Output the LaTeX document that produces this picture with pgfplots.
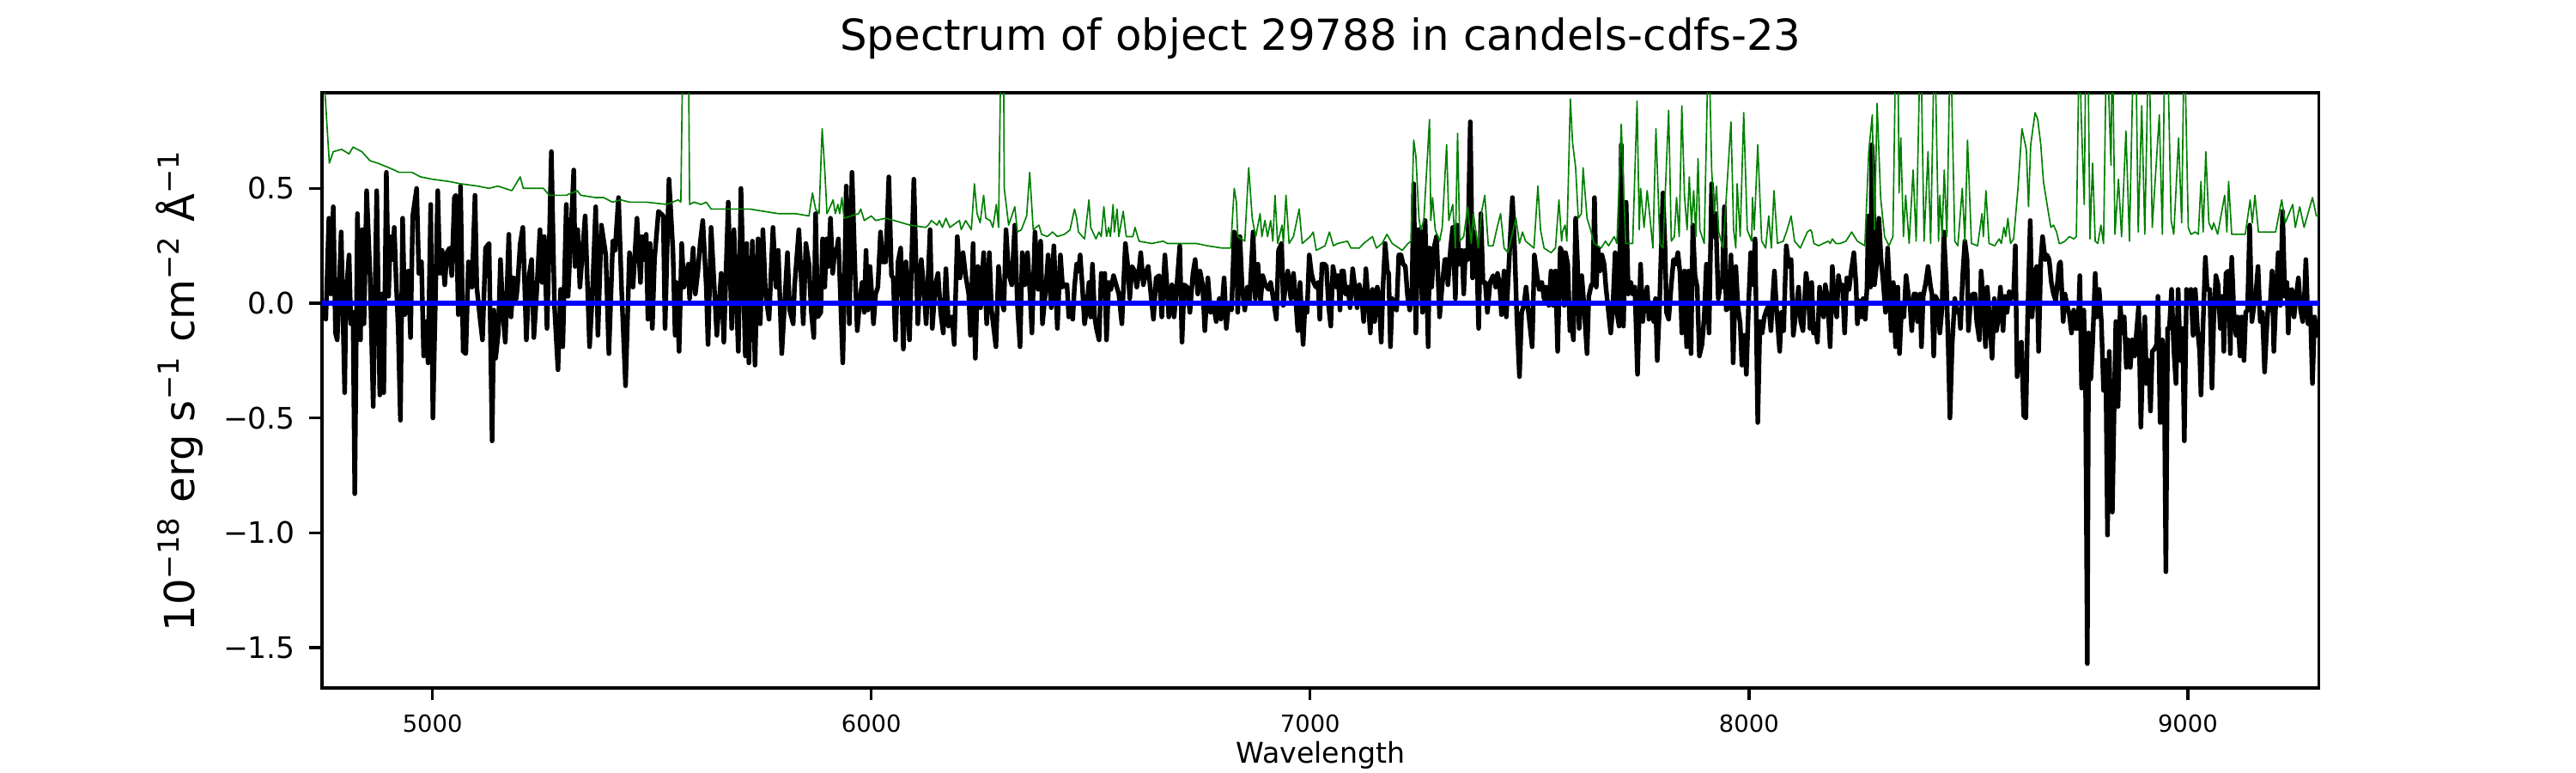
\documentclass[border=0pt]{standalone}
\usepackage{fontspec}
\setmainfont{DejaVu Sans}
\usepackage{pgfplots}
\usepackage{pgfplotstable}
\pgfplotsset{compat=1.18}
\definecolor{mplgreen}{rgb}{0,0.5,0}
\pgfplotstableread[row sep=\\]{
x y\\
4748 -0.01\\ 4757 -0.07\\ 4764 0.37\\ 4768 0.04\\ 4774 0.42\\ 4779 -0.13\\ 4783 -0.16\\ 4787 0.04\\ 4792 0.31\\ 4800 -0.39\\
4803 0.03\\ 4810 0.21\\ 4814 -0.09\\ 4819 -0.04\\ 4823 -0.83\\ 4829 0.39\\ 4836 -0.16\\ 4840 0.32\\ 4844 -0.09\\ 4850 0.49\\
4858 0.11\\ 4865 -0.45\\ 4873 0.49\\ 4880 -0.40\\ 4885 0.04\\ 4889 -0.39\\ 4895 0.57\\ 4900 0.03\\ 4904 0.29\\ 4909 0.19\\
4913 0.33\\ 4917 0.11\\ 4922 -0.11\\ 4927 -0.51\\ 4932 0.37\\ 4937 -0.05\\ 4945 0.14\\ 4950 -0.15\\ 4955 0.38\\ 4964 0.50\\
4969 0.13\\ 4975 0.18\\ 4980 -0.23\\ 4986 -0.08\\ 4990 -0.26\\ 4996 0.43\\ 5001 -0.50\\ 5012 0.49\\ 5017 0.13\\ 5022 0.23\\
5028 0.08\\ 5033 0.22\\ 5039 0.24\\ 5044 0.12\\ 5050 0.46\\ 5053 0.47\\ 5059 -0.05\\ 5064 0.51\\ 5070 -0.21\\ 5076 -0.22\\
5082 0.18\\ 5090 0.07\\ 5097 0.47\\ 5101 0.07\\ 5108 -0.06\\ 5114 -0.16\\ 5121 0.24\\ 5129 0.26\\ 5136 -0.60\\ 5140 -0.03\\
5144 -0.24\\ 5150 -0.13\\ 5155 0.19\\ 5161 -0.06\\ 5166 -0.17\\ 5174 0.30\\ 5179 -0.06\\ 5185 0.11\\ 5191 0.02\\ 5194 0.08\\
5200 0.26\\ 5206 0.33\\ 5214 -0.16\\ 5221 0.13\\ 5226 0.19\\ 5231 -0.15\\ 5237 0.03\\ 5245 0.32\\ 5250 0.09\\ 5255 0.29\\
5261 -0.11\\ 5266 0.24\\ 5271 0.66\\ 5278 -0.01\\ 5286 -0.29\\ 5292 0.06\\ 5297 -0.19\\
5305 0.43\\ 5309 0.03\\ 5322 0.58\\ 5325 0.16\\ 5331 0.32\\ 5336 0.07\\ 5348 0.38\\ 5358 -0.19\\ 5364 0.02\\ 5372 0.42\\
5377 -0.14\\ 5385 0.34\\ 5395 0.21\\ 5402 -0.22\\ 5411 0.27\\ 5416 0.23\\ 5424 0.46\\ 5431 0.06\\ 5440 -0.36\\ 5449 0.22\\
5457 0.07\\ 5466 0.37\\ 5474 0.09\\ 5478 0.29\\ 5483 0.19\\ 5487 0.30\\ 5491 -0.07\\ 5496 0.26\\ 5501 -0.11\\ 5506 0.19\\
5515 0.40\\ 5526 0.38\\ 5530 -0.11\\ 5539 0.54\\ 5548 0.23\\ 5553 -0.14\\ 5556 0.09\\ 5562 -0.21\\ 5568 0.26\\ 5573 0.07\\
5583 0.17\\ 5586 0.02\\ 5594 0.24\\ 5599 0.04\\ 5605 0.14\\ 5610 0.26\\ 5616 0.36\\ 5624 0.07\\ 5628 -0.18\\ 5635 0.33\\
5648 -0.14\\ 5658 0.13\\ 5664 -0.17\\ 5674 0.44\\ 5682 -0.11\\ 5687 0.32\\ 5697 -0.21\\ 5703 0.50\\ 5713 -0.23\\ 5716 0.26\\
5721 -0.26\\ 5729 0.27\\ 5735 -0.27\\ 5742 0.28\\ 5747 -0.09\\ 5753 0.32\\ 5759 0.04\\ 5767 -0.07\\ 5776 0.33\\ 5783 0.07\\
5788 0.23\\ 5796 -0.22\\ 5809 0.22\\ 5814 -0.03\\ 5822 -0.09\\ 5825 0.07\\ 5835 0.32\\ 5845 -0.09\\ 5851 0.26\\ 5858 0.17\\
5863 -0.03\\ 5869 -0.15\\
5873 0.39\\ 5878 -0.06\\ 5885 -0.04\\ 5889 0.28\\ 5894 0.07\\ 5898 0.28\\ 5902 0.16\\ 5907 0.37\\ 5912 0.13\\ 5917 0.23\\
5922 0.24\\ 5925 0.28\\ 5929 0.07\\ 5935 -0.26\\ 5938 -0.01\\ 5943 0.51\\ 5950 -0.09\\ 5956 0.57\\ 5963 0.14\\ 5968 -0.12\\
5974 0.01\\ 5979 0.09\\ 5984 -0.04\\ 5988 0.23\\ 5992 -0.03\\ 5997 0.16\\ 6001 0.04\\ 6005 -0.09\\ 6010 0.04\\ 6015 0.07\\
6021 0.31\\ 6026 0.18\\ 6033 0.18\\ 6040 0.55\\ 6046 0.12\\ 6050 0.11\\ 6055 -0.16\\ 6061 0.18\\ 6067 0.24\\ 6073 -0.20\\
6079 0.18\\ 6087 -0.16\\ 6097 0.54\\ 6101 0.24\\ 6106 -0.09\\ 6114 0.19\\ 6121 0.03\\ 6125 -0.09\\ 6134 0.32\\ 6139 -0.11\\
6146 0.08\\ 6152 0.13\\ 6158 -0.04\\ 6164 -0.13\\ 6170 0.15\\ 6176 -0.10\\ 6184 -0.06\\ 6189 -0.18\\ 6196 0.29\\ 6202 0.11\\
6209 0.22\\ 6215 0.12\\ 6222 0.04\\ 6226 -0.14\\ 6232 0.26\\ 6237 -0.24\\ 6243 0.16\\ 6249 -0.02\\ 6256 0.22\\ 6263 -0.09\\
6269 0.22\\ 6274 -0.03\\ 6284 -0.19\\ 6290 0.16\\ 6296 0.02\\ 6302 -0.03\\ 6307 0.32\\ 6313 0.13\\ 6320 0.08\\ 6327 0.34\\
6333 -0.01\\ 6339 -0.19\\ 6344 0.22\\ 6350 0.08\\ 6356 0.22\\ 6362 0.03\\ 6366 -0.13\\ 6373 0.31\\ 6380 0.06\\ 6386 0.27\\
6390 -0.09\\ 6398 0.07\\ 6403 0.21\\ 6410 -0.02\\ 6416 0.25\\ 6424 -0.11\\ 6431 0.21\\ 6436 0.07\\
6440 0.08\\ 6446 0.08\\ 6450 -0.06\\ 6455 -0.01\\ 6459 -0.07\\ 6463 0.07\\ 6468 0.17\\ 6472 0.14\\ 6476 0.21\\ 6481 0.07\\
6486 -0.09\\ 6491 -0.02\\ 6496 0.09\\ 6500 -0.06\\ 6504 0.17\\ 6509 -0.06\\ 6513 -0.11\\ 6519 -0.16\\ 6524 0.13\\ 6528 0.09\\
6532 0.13\\ 6536 -0.16\\ 6541 0.09\\ 6546 0.06\\ 6552 0.12\\ 6558 0.08\\ 6564 0.04\\ 6571 -0.09\\ 6579 0.26\\ 6584 0.17\\
6589 0.02\\ 6594 0.16\\ 6600 0.14\\ 6605 0.07\\ 6609 0.12\\ 6614 0.22\\ 6620 0.08\\ 6625 0.13\\ 6631 0.16\\ 6636 0.06\\
6643 -0.07\\ 6649 0.11\\ 6656 0.12\\ 6662 -0.06\\ 6669 0.21\\ 6674 0.07\\ 6678 -0.06\\ 6685 0.08\\ 6690 -0.06\\ 6696 0.07\\
6703 0.25\\ 6708 -0.17\\ 6713 0.08\\ 6720 0.07\\ 6726 -0.04\\ 6733 0.13\\ 6738 0.19\\ 6744 0.04\\ 6749 0.14\\ 6755 0.08\\
6760 -0.12\\ 6767 0.11\\ 6773 -0.04\\ 6780 -0.01\\ 6786 -0.08\\ 6793 0.02\\ 6797 -0.07\\ 6804 0.11\\ 6809 -0.11\\ 6814 -0.01\\
6821 -0.03\\ 6827 0.31\\ 6832 0.29\\ 6835 -0.04\\ 6840 0.29\\ 6845 0.07\\ 6851 -0.03\\ 6857 0.07\\ 6862 0.01\\ 6870 0.31\\
6875 0.02\\ 6881 0.17\\ 6887 0.01\\ 6892 0.12\\ 6898 0.08\\ 6905 0.06\\ 6910 0.09\\ 6916 0.02\\ 6923 -0.07\\ 6928 0.23\\
6935 0.26\\ 6939 -0.01\\ 6944 0.08\\ 6949 0.14\\ 6956 0.02\\ 6962 0.13\\ 6967 0.02\\ 6972 -0.12\\ 6977 0.09\\ 6984 -0.18\\
6988 -0.02\\ 6993 -0.04\\ 6998 0.21\\ 7003 0.13\\
7008 0.09\\ 7013 0.07\\ 7018 0.09\\ 7022 -0.07\\ 7027 0.17\\ 7033 0.17\\ 7037 0.16\\ 7042 -0.01\\ 7047 -0.10\\ 7052 0.16\\
7056 0.12\\ 7060 0.07\\ 7064 0.12\\ 7068 -0.03\\ 7072 0.14\\ 7076 0.14\\ 7081 0.04\\ 7086 0.07\\ 7091 -0.02\\ 7097 0.15\\
7102 0.07\\ 7107 -0.02\\ 7112 0.08\\ 7117 0.04\\ 7122 -0.08\\ 7127 0.15\\ 7132 0.02\\ 7137 -0.13\\ 7142 0.06\\ 7147 -0.08\\
7153 0.07\\ 7157 0.03\\ 7162 -0.17\\ 7166 0.07\\ 7171 0.26\\ 7176 0.14\\ 7179 0.13\\ 7183 -0.19\\ 7187 0.02\\ 7192 -0.01\\
7197 -0.03\\ 7202 0.21\\ 7207 0.21\\ 7212 0.17\\ 7217 0.16\\ 7222 0.03\\ 7227 -0.03\\ 7232 0.04\\ 7236 0.52\\ 7241 -0.13\\
7246 0.32\\ 7250 0.32\\ 7256 -0.04\\ 7262 0.36\\ 7269 -0.19\\ 7272 0.24\\ 7277 0.07\\ 7282 0.24\\ 7288 0.29\\ 7295 -0.06\\
7301 0.08\\ 7307 0.19\\ 7311 0.19\\ 7314 0.08\\ 7320 0.24\\ 7325 0.33\\ 7331 0.02\\ 7335 0.34\\ 7340 0.17\\ 7346 0.23\\
7350 0.04\\ 7354 0.23\\ 7359 0.19\\ 7365 0.79\\ 7370 0.11\\ 7374 0.31\\ 7380 0.17\\ 7384 -0.11\\ 7389 0.39\\ 7394 0.09\\
7399 0.09\\ 7404 -0.04\\ 7410 0.09\\ 7417 0.12\\ 7423 0.07\\ 7427 0.13\\ 7432 0.08\\ 7436 -0.05\\ 7442 0.14\\ 7447 -0.06\\
7453 0.17\\ 7457 0.32\\ 7461 0.46\\ 7466 0.24\\ 7471 -0.06\\ 7477 -0.32\\ 7482 -0.04\\ 7487 -0.01\\ 7492 0.07\\ 7497 -0.03\\
7506 -0.19\\ 7511 0.21\\ 7517 0.12\\ 7522 0.06\\ 7528 0.09\\ 7533 0.02\\ 7537 0.07\\ 7544 -0.01\\ 7549 0.14\\ 7554 -0.01\\
7559 0.14\\ 7564 -0.21\\ 7570 0.24\\
7575 0.22\\ 7579 -0.01\\ 7582 0.22\\ 7587 0.17\\ 7592 -0.12\\ 7596 -0.09\\ 7600 -0.16\\ 7605 0.37\\ 7609 0.19\\ 7613 -0.11\\
7619 0.12\\ 7624 -0.01\\ 7631 -0.22\\ 7635 0.03\\ 7641 0.08\\ 7644 0.08\\ 7648 0.46\\ 7652 0.07\\ 7656 0.24\\ 7660 0.14\\
7665 0.21\\ 7670 0.17\\ 7674 0.07\\ 7680 -0.04\\ 7685 -0.13\\ 7690 -0.01\\ 7695 0.22\\ 7699 -0.04\\ 7704 -0.10\\ 7709 0.69\\
7714 -0.10\\ 7720 0.44\\ 7725 0.04\\ 7731 0.09\\ 7735 0.04\\ 7740 0.07\\ 7746 -0.31\\ 7753 0.17\\ 7758 -0.08\\ 7763 0.03\\
7768 0.07\\ 7772 -0.07\\ 7778 -0.01\\ 7783 -0.08\\ 7787 0.02\\ 7791 -0.25\\ 7796 -0.02\\ 7804 0.48\\ 7809 0.23\\ 7812 -0.04\\
7817 -0.07\\ 7823 0.08\\ 7828 0.19\\ 7833 0.17\\ 7838 0.22\\ 7843 0.13\\ 7847 -0.13\\ 7853 0.14\\ 7858 -0.19\\ 7862 0.14\\
7868 -0.22\\ 7872 0.34\\ 7877 0.12\\ 7882 0.07\\ 7887 -0.23\\ 7893 -0.18\\ 7898 -0.06\\ 7903 0.17\\ 7909 -0.13\\ 7915 0.52\\
7919 0.29\\ 7924 0.39\\ 7930 0.02\\ 7934 0.07\\ 7939 0.07\\ 7944 0.42\\ 7948 -0.03\\ 7954 -0.02\\ 7959 0.21\\ 7964 -0.26\\
7970 0.16\\ 7975 -0.02\\ 7980 -0.09\\ 7984 -0.27\\ 7990 -0.14\\ 7994 -0.31\\ 7999 -0.01\\ 8004 0.22\\ 8009 0.08\\ 8014 0.28\\
8020 -0.52\\ 8025 -0.08\\ 8030 -0.13\\ 8035 -0.06\\ 8040 -0.03\\ 8045 -0.01\\ 8050 -0.12\\ 8053 -0.01\\ 8058 0.14\\ 8063 -0.03\\
8070 -0.21\\ 8074 -0.04\\ 8079 -0.12\\ 8085 0.25\\ 8091 0.16\\ 8096 0.19\\ 8101 -0.14\\ 8107 -0.04\\ 8113 0.07\\ 8118 -0.08\\
8123 -0.12\\ 8130 0.13\\ 8135 0.06\\ 8139 -0.11\\
8143 0.09\\ 8147 -0.13\\ 8151 -0.09\\ 8156 -0.17\\ 8161 0.07\\ 8166 -0.03\\ 8170 -0.06\\ 8174 0.08\\ 8179 0.02\\ 8185 -0.19\\
8190 0.16\\ 8195 -0.01\\ 8200 -0.06\\ 8204 0.12\\ 8208 0.07\\ 8213 0.08\\ 8218 -0.13\\ 8223 0.11\\ 8228 0.06\\ 8233 0.14\\
8239 0.22\\ 8244 0.08\\ 8247 -0.09\\ 8252 0.01\\ 8257 -0.06\\ 8260 0.02\\ 8265 -0.07\\ 8269 0.07\\ 8272 0.38\\ 8277 0.07\\
8280 0.69\\ 8283 0.57\\ 8286 0.08\\ 8292 0.19\\ 8296 0.37\\ 8301 0.19\\ 8306 0.09\\ 8311 -0.04\\ 8316 0.24\\ 8320 0.07\\
8324 -0.12\\ 8329 0.09\\ 8334 -0.19\\ 8339 0.07\\ 8343 -0.22\\ 8348 -0.01\\ 8353 -0.06\\ 8358 0.12\\ 8363 0.04\\ 8367 -0.01\\
8371 -0.12\\ 8376 0.04\\ 8380 0.04\\ 8384 -0.08\\ 8390 0.04\\ 8393 -0.19\\ 8397 0.03\\ 8403 0.09\\ 8408 0.16\\ 8414 0.07\\
8417 0.04\\ 8421 -0.23\\ 8425 0.03\\ 8430 0.01\\ 8435 -0.13\\ 8440 -0.02\\ 8444 0.31\\ 8450 0.08\\ 8454 -0.18\\ 8458 -0.50\\
8463 -0.18\\ 8469 0.02\\ 8474 -0.04\\ 8479 -0.03\\ 8482 -0.11\\ 8487 0.12\\ 8492 0.27\\ 8497 0.19\\ 8500 -0.12\\ 8505 0.01\\
8510 0.04\\ 8515 0.04\\ 8519 -0.08\\ 8525 -0.16\\ 8529 0.14\\ 8533 0.04\\ 8539 -0.19\\ 8543 0.07\\ 8549 -0.09\\ 8554 -0.24\\
8559 0.02\\ 8564 -0.12\\ 8568 -0.07\\ 8573 0.07\\ 8579 -0.12\\ 8583 0.03\\ 8588 -0.04\\ 8593 0.05\\ 8598 0.02\\ 8603 0.04\\
8607 0.25\\ 8611 -0.32\\ 8616 -0.22\\ 8621 -0.17\\ 8626 -0.49\\ 8631 -0.50\\ 8635 -0.06\\ 8641 0.36\\ 8645 -0.06\\ 8652 0.14\\
8656 0.16\\ 8660 -0.21\\ 8665 0.18\\ 8669 0.29\\ 8675 0.19\\ 8679 0.21\\ 8684 0.19\\ 8689 0.09\\ 8694 0.04\\ 8699 0.01\\
8703 0.09\\ 8707 0.17\\
8710 0.18\\ 8716 -0.08\\ 8720 0.04\\ 8725 -0.01\\ 8730 -0.05\\ 8735 -0.13\\ 8740 -0.03\\ 8744 -0.11\\ 8750 -0.11\\ 8754 0.12\\
8758 -0.37\\ 8763 -0.03\\ 8767 -0.35\\ 8771 -1.57\\ 8774 -0.13\\ 8779 -0.33\\ 8783 -0.18\\ 8789 0.13\\ 8793 -0.06\\ 8798 0.06\\
8803 -0.08\\ 8808 -0.38\\ 8813 -0.25\\ 8817 -1.01\\ 8821 -0.21\\ 8828 -0.91\\ 8832 -0.47\\ 8836 -0.08\\ 8841 -0.45\\ 8846 -0.01\\
8851 -0.13\\ 8855 -0.06\\ 8860 -0.28\\ 8864 -0.16\\ 8869 -0.28\\ 8873 -0.16\\ 8879 -0.23\\ 8883 -0.13\\ 8888 -0.01\\ 8893 -0.54\\
8898 -0.20\\ 8902 -0.06\\ 8906 -0.35\\ 8911 -0.25\\ 8915 -0.47\\ 8919 -0.21\\ 8924 -0.20\\ 8929 -0.18\\ 8932 0.03\\ 8937 -0.52\\
8942 -0.16\\ 8946 -0.25\\ 8950 -1.17\\ 8954 -0.11\\ 8958 -0.11\\ 8963 0.06\\ 8968 -0.20\\ 8973 -0.35\\ 8978 0.06\\ 8983 -0.25\\
8988 -0.11\\ 8992 -0.60\\ 8997 0.06\\ 9003 0.02\\ 9007 0.06\\ 9012 -0.14\\ 9017 0.06\\ 9022 -0.11\\ 9027 -0.21\\ 9030 -0.40\\
9035 -0.08\\ 9040 0.20\\ 9044 0.06\\ 9050 0.06\\ 9055 -0.37\\ 9059 -0.08\\ 9064 0.12\\ 9069 0.08\\ 9074 -0.11\\ 9079 0.03\\
9082 -0.21\\ 9087 0.13\\ 9092 0.14\\ 9097 -0.22\\ 9100 0.20\\ 9105 -0.04\\ 9110 -0.14\\ 9114 -0.06\\ 9119 -0.23\\ 9123 -0.06\\
9128 -0.25\\ 9132 -0.04\\ 9136 -0.03\\ 9141 0.34\\ 9146 -0.08\\ 9151 -0.01\\ 9155 0.04\\ 9160 0.16\\ 9165 -0.08\\ 9170 -0.04\\
9175 -0.30\\ 9179 -0.14\\ 9183 -0.01\\ 9187 -0.03\\ 9192 0.14\\ 9196 -0.21\\ 9201 0.03\\ 9206 0.22\\ 9211 -0.01\\ 9216 0.40\\
9221 0.03\\ 9226 0.09\\ 9229 -0.13\\ 9232 0.05\\ 9237 0.06\\ 9242 -0.06\\ 9247 0.03\\ 9252 0.11\\ 9257 -0.03\\ 9262 -0.08\\
9265 -0.01\\ 9269 0.19\\ 9274 -0.09\\ 9279 -0.01\\ 9284 -0.35\\ 9289 -0.06\\ 9294 -0.14\\ 9299 -0.08\\
}\specdata
\pgfplotstableread[row sep=\\]{
x y\\
4748 1.2\\ 4754 0.95\\ 4765 0.61\\ 4774 0.66\\ 4793 0.67\\ 4810 0.65\\ 4819 0.68\\ 4839 0.66\\ 4858 0.62\\ 4875 0.61\\
4901 0.59\\ 4924 0.57\\ 4953 0.57\\ 4973 0.55\\ 4999 0.54\\ 5038 0.53\\ 5064 0.52\\ 5103 0.51\\ 5129 0.50\\ 5149 0.51\\
5181 0.49\\ 5200 0.55\\ 5207 0.50\\ 5234 0.50\\ 5253 0.50\\ 5266 0.47\\ 5292 0.47\\
5305 0.47\\ 5330 0.49\\ 5338 0.47\\ 5371 0.46\\ 5390 0.46\\ 5410 0.44\\ 5429 0.45\\ 5449 0.44\\ 5488 0.44\\ 5534 0.43\\
5560 0.45\\ 5566 0.44\\ 5571 1.2\\ 5583 1.2\\ 5586 0.43\\ 5596 0.44\\ 5612 0.43\\ 5624 0.44\\ 5635 0.41\\ 5658 0.41\\
5697 0.41\\ 5723 0.41\\ 5755 0.40\\ 5788 0.39\\ 5827 0.39\\ 5858 0.38\\ 5866 0.48\\
5873 0.41\\ 5881 0.39\\ 5888 0.76\\ 5894 0.58\\ 5899 0.39\\ 5904 0.41\\ 5913 0.45\\ 5918 0.39\\ 5924 0.43\\ 5928 0.39\\
5933 0.46\\ 5938 0.37\\ 5971 0.39\\ 5976 0.41\\ 5984 0.36\\ 6000 0.38\\ 6010 0.36\\ 6033 0.37\\ 6052 0.36\\ 6088 0.34\\
6124 0.33\\ 6130 0.34\\ 6137 0.36\\ 6150 0.34\\ 6155 0.36\\ 6162 0.33\\ 6170 0.37\\ 6179 0.33\\ 6201 0.36\\ 6205 0.32\\
6215 0.36\\ 6228 0.32\\ 6235 0.52\\ 6241 0.39\\ 6248 0.35\\ 6256 0.47\\ 6261 0.37\\ 6271 0.36\\ 6277 0.33\\ 6285 0.43\\
6290 0.33\\ 6296 1.2\\ 6301 1.2\\ 6303 0.50\\ 6313 0.34\\ 6327 0.42\\ 6333 0.31\\ 6342 0.32\\ 6354 0.38\\ 6361 0.57\\
6369 0.32\\ 6382 0.34\\ 6388 0.30\\ 6401 0.29\\ 6413 0.31\\ 6424 0.29\\
6440 0.30\\ 6447 0.31\\ 6453 0.32\\ 6463 0.41\\ 6468 0.37\\ 6472 0.31\\ 6486 0.28\\ 6496 0.45\\ 6500 0.33\\ 6512 0.28\\
6519 0.31\\ 6524 0.29\\ 6530 0.42\\ 6536 0.29\\ 6541 0.33\\ 6545 0.29\\ 6551 0.43\\ 6554 0.31\\ 6560 0.41\\ 6564 0.29\\
6574 0.40\\ 6581 0.29\\ 6596 0.29\\ 6601 0.33\\ 6610 0.27\\ 6639 0.26\\ 6665 0.27\\ 6675 0.26\\ 6695 0.26\\ 6714 0.26\\
6740 0.26\\ 6766 0.25\\ 6799 0.24\\ 6819 0.24\\ 6827 0.50\\ 6832 0.44\\ 6835 0.29\\ 6851 0.27\\ 6860 0.59\\ 6868 0.37\\
6876 0.29\\ 6886 0.39\\ 6890 0.29\\ 6897 0.36\\ 6903 0.29\\ 6910 0.36\\ 6915 0.27\\ 6920 0.47\\ 6926 0.26\\ 6936 0.34\\
6939 0.26\\ 6945 0.47\\ 6952 0.26\\ 6962 0.29\\ 6975 0.41\\ 6982 0.26\\ 7000 0.29\\ 7007 0.31\\
7014 0.23\\ 7024 0.24\\ 7034 0.25\\ 7044 0.31\\ 7053 0.25\\ 7063 0.26\\ 7085 0.27\\ 7093 0.24\\ 7112 0.24\\ 7122 0.26\\
7142 0.29\\ 7151 0.24\\ 7164 0.26\\ 7175 0.30\\ 7187 0.26\\ 7210 0.23\\ 7223 0.26\\ 7230 0.27\\ 7236 0.71\\ 7241 0.64\\
7248 0.37\\ 7252 0.32\\ 7259 0.36\\ 7272 0.80\\ 7275 0.36\\ 7279 0.46\\ 7285 0.32\\ 7295 0.27\\ 7301 0.33\\ 7311 0.69\\
7316 0.36\\ 7325 0.43\\ 7331 0.24\\ 7336 0.74\\ 7341 0.27\\ 7350 0.29\\ 7359 0.42\\ 7367 0.26\\ 7372 0.39\\ 7383 0.24\\
7391 0.40\\ 7398 0.47\\ 7406 0.25\\ 7417 0.25\\ 7425 0.32\\ 7434 0.39\\ 7442 0.24\\ 7451 0.22\\ 7464 0.33\\ 7469 0.37\\
7477 0.26\\ 7484 0.31\\ 7491 0.27\\ 7510 0.24\\ 7519 0.51\\ 7525 0.32\\ 7533 0.24\\ 7549 0.22\\ 7559 0.24\\ 7567 0.45\\
7573 0.27\\
7575 0.31\\ 7581 0.34\\ 7585 0.27\\ 7593 0.89\\ 7598 0.70\\ 7605 0.59\\ 7611 0.37\\ 7618 0.39\\ 7622 0.59\\ 7631 0.37\\
7639 0.32\\ 7647 0.26\\ 7663 0.24\\ 7673 0.27\\ 7680 0.25\\ 7693 0.29\\ 7699 0.26\\ 7709 0.78\\ 7719 0.26\\ 7735 0.26\\
7745 0.88\\ 7750 0.32\\ 7753 0.50\\ 7761 0.33\\ 7768 0.49\\ 7774 0.38\\ 7781 0.24\\ 7788 0.76\\ 7797 0.26\\ 7804 0.24\\
7817 0.84\\ 7823 0.27\\ 7830 0.29\\ 7835 0.46\\ 7841 0.29\\ 7847 0.86\\ 7853 0.47\\ 7859 0.32\\ 7864 0.55\\ 7869 0.34\\
7874 0.49\\ 7879 0.29\\ 7884 0.63\\ 7888 0.32\\ 7898 0.26\\ 7908 1.2\\ 7915 0.58\\ 7921 0.39\\ 7926 0.51\\ 7931 0.31\\
7941 0.24\\ 7959 0.79\\ 7965 0.32\\ 7970 0.24\\ 7973 0.52\\ 7980 0.29\\ 7988 0.83\\ 7996 0.32\\ 8006 0.27\\ 8008 0.46\\
8012 0.32\\ 8020 0.69\\ 8029 0.27\\ 8038 0.24\\ 8045 0.38\\ 8051 0.24\\ 8057 0.49\\ 8065 0.26\\ 8078 0.27\\ 8087 0.32\\
8096 0.38\\ 8104 0.27\\ 8117 0.24\\ 8133 0.31\\ 8140 0.32\\
8143 0.31\\ 8148 0.26\\ 8159 0.25\\ 8169 0.26\\ 8181 0.27\\ 8185 0.26\\ 8190 0.28\\ 8198 0.26\\ 8208 0.26\\ 8221 0.27\\
8234 0.31\\ 8247 0.27\\ 8264 0.25\\ 8273 0.66\\ 8281 0.82\\ 8286 0.32\\ 8292 0.87\\ 8300 0.46\\ 8309 0.29\\ 8319 0.25\\
8328 0.29\\ 8335 1.2\\ 8339 1.2\\ 8342 0.48\\ 8346 0.72\\ 8352 0.29\\ 8357 0.47\\ 8365 0.26\\ 8374 0.58\\ 8381 0.27\\
8391 1.2\\ 8399 0.27\\ 8408 0.66\\ 8414 0.26\\ 8423 1.2\\ 8432 0.27\\ 8435 0.47\\ 8440 0.29\\ 8445 0.58\\ 8451 0.29\\
8459 1.2\\ 8469 0.27\\ 8476 0.25\\ 8486 0.50\\ 8492 0.27\\ 8498 0.71\\ 8507 0.26\\ 8521 0.25\\ 8531 0.39\\ 8534 0.29\\
8540 0.49\\ 8547 0.26\\ 8560 0.25\\ 8570 0.28\\ 8575 0.26\\ 8581 0.33\\ 8585 0.29\\ 8590 0.37\\ 8596 0.26\\ 8603 0.28\\
8613 0.50\\ 8622 0.76\\ 8632 0.67\\ 8637 0.42\\ 8642 0.69\\ 8652 0.83\\ 8658 0.80\\ 8665 0.69\\ 8671 0.53\\ 8681 0.41\\
8688 0.33\\ 8694 0.34\\ 8701 0.31\\ 8707 0.26\\
8710 0.26\\ 8720 0.27\\ 8730 0.29\\ 8740 0.28\\ 8746 0.29\\ 8753 1.2\\ 8757 0.82\\ 8764 0.43\\ 8768 1.2\\ 8772 1.2\\
8777 0.28\\ 8783 0.61\\ 8789 0.27\\ 8795 0.26\\ 8802 0.34\\ 8808 0.26\\ 8815 1.2\\ 8825 0.60\\ 8828 1.2\\ 8834 0.30\\
8842 0.54\\ 8849 0.29\\ 8859 0.75\\ 8867 0.27\\ 8877 1.2\\ 8881 1.2\\ 8887 0.31\\ 8895 0.86\\ 8902 0.30\\ 8911 1.2\\
8919 0.33\\ 8935 0.82\\ 8942 0.30\\ 8948 1.2\\ 8953 1.2\\ 8962 0.36\\ 8968 0.30\\ 8979 0.72\\ 8986 0.35\\ 8992 1.2\\
9001 0.33\\ 9007 0.30\\ 9017 0.31\\ 9024 0.30\\ 9030 0.53\\ 9035 0.31\\ 9041 0.66\\ 9048 0.35\\ 9055 0.32\\ 9059 0.35\\
9068 0.30\\ 9084 0.47\\ 9089 0.31\\ 9093 0.53\\ 9100 0.30\\ 9131 0.30\\ 9142 0.45\\ 9147 0.35\\ 9153 0.47\\ 9161 0.31\\
9180 0.31\\ 9200 0.31\\ 9214 0.45\\ 9222 0.35\\ 9239 0.43\\ 9245 0.33\\ 9255 0.42\\ 9265 0.33\\ 9284 0.46\\ 9293 0.38\\
9299 0.38\\
}\errdata
\pgfplotstableread[row sep=\\]{
x y\\
4748 0\\
9299 0\\
}\zerodata
\begin{document}
\begin{tikzpicture}
\path[use as bounding box] (0,0) rectangle (722.7pt,216.8pt);
\begin{axis}[
  at={(90.3pt,23.85pt)}, anchor=south west,
  scale only axis, width=560.3pt, height=166.9pt,
  xmin=4748, xmax=9299, ymin=-1.676, ymax=0.916,
  xtick={5000,6000,7000,8000,9000},
  xticklabels={5000,6000,7000,8000,9000},
  ytick={-1.5,-1,-0.5,0,0.5},
  yticklabels={−1.5,−1.0,−0.5,0.0,0.5},
  scaled x ticks=false,
  tick align=outside, xtick pos=left, ytick pos=left,
  major tick length=3.5pt,
  every tick/.style={black, line width=0.8pt},
  axis line style={line width=0.8pt},
  xticklabel style={font=\fontsize{6.6}{8}\selectfont, inner sep=0pt, anchor=base, yshift=-8.9pt},
  yticklabel style={font=\fontsize{8.3}{10}\selectfont, inner sep=0pt, anchor=east, xshift=-3.8pt},
  title={Spectrum of object 29788 in candels-cdfs-23},
  title style={at={(axis description cs:0.5,1.036)}, anchor=base, font=\fontsize{12}{14}\selectfont},
  xlabel={Wavelength},
  xlabel style={at={(axis description cs:0.5,-0.127)}, anchor=base, font=\fontsize{8}{10}\selectfont},
  ylabel={10\textsuperscript{−18} erg s\textsuperscript{−1} cm\textsuperscript{−2} Å\textsuperscript{−1}},
  ylabel style={at={(axis description cs:-0.0637,0.5)}, anchor=base, font=\fontsize{11.6}{14}\selectfont},
]
\addplot[black, line width=1.3pt, line join=round] table[x=x, y=y] {\specdata};
\addplot[mplgreen, line width=0.4pt, line join=round] table[x=x, y=y] {\errdata};
\addplot[blue, line width=1.6pt] table[x=x, y=y] {\zerodata};
\end{axis}
\end{tikzpicture}
\end{document}
